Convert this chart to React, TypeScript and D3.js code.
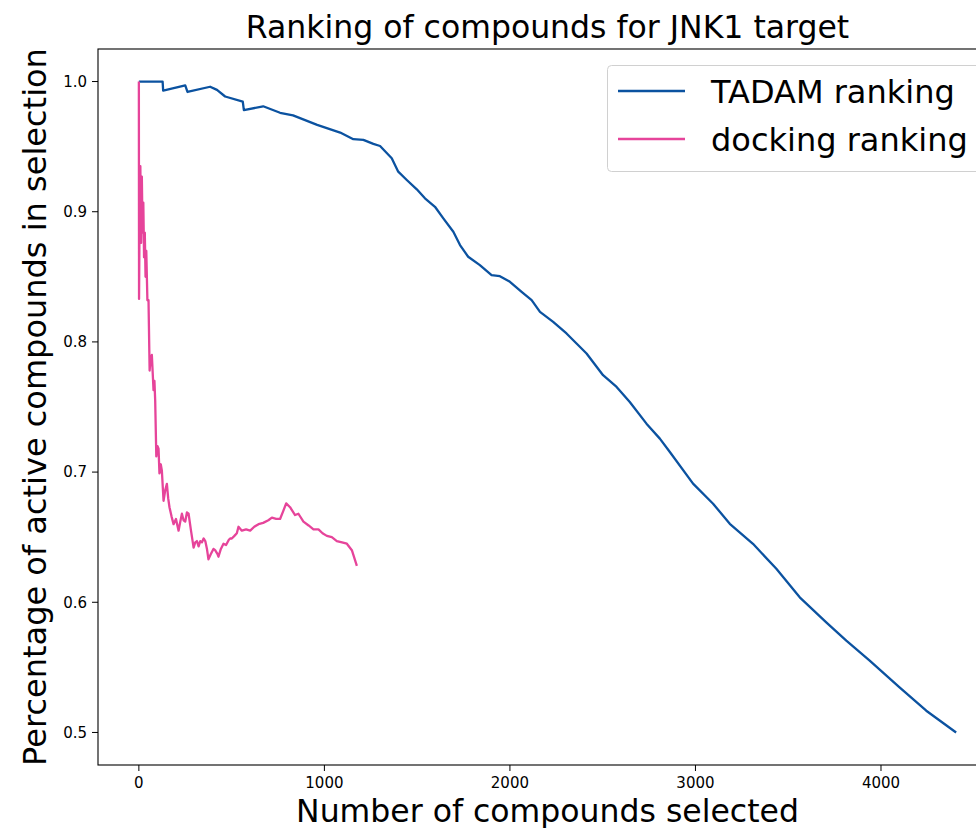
import React, { useEffect, useRef } from 'react';
import * as d3 from 'd3';

// TADAM ranking curve (compounds selected, fraction active)
const tadamX = [0, 128, 131, 250, 262, 384, 421, 465, 560, 566, 670, 761, 831, 961, 1085, 1156, 1210, 1264, 1300, 1363, 1398, 1444, 1498, 1542, 1596, 1641, 1695, 1731, 1775, 1838, 1901, 1946, 2000, 2063, 2117, 2162, 2233, 2305, 2413, 2502, 2575, 2646, 2736, 2808, 2862, 2987, 3095, 3185, 3310, 3436, 3562, 3705, 3813, 3939, 4100, 4244, 4405];
const tadamY = [1.0, 1.0, 0.993, 0.997, 0.992, 0.996, 0.9936, 0.9885, 0.9846, 0.978, 0.981, 0.976, 0.974, 0.9667, 0.9608, 0.9557, 0.9552, 0.9521, 0.9505, 0.9411, 0.9308, 0.9244, 0.9172, 0.9103, 0.9038, 0.8949, 0.8846, 0.8744, 0.8654, 0.859, 0.8513, 0.8505, 0.8462, 0.8385, 0.8321, 0.8231, 0.8154, 0.8065, 0.7911, 0.7744, 0.7654, 0.7538, 0.7372, 0.7257, 0.7154, 0.6911, 0.6757, 0.6603, 0.6449, 0.6257, 0.6038, 0.5846, 0.5705, 0.5552, 0.5346, 0.5167, 0.5];

// docking ranking curve
const dockX = [0, 1, 4, 8, 12, 16, 20, 24, 28, 32, 36, 40, 46, 52, 58, 64, 70, 75, 79, 84, 88, 94, 100, 106, 111, 118, 124, 133, 142, 151, 158, 165, 176, 187, 200, 214, 222, 232, 241, 250, 259, 268, 281, 295, 304, 313, 322, 331, 340, 349, 358, 367, 375, 388, 402, 411, 424, 429, 442, 456, 470, 485, 492, 501, 515, 528, 537, 555, 578, 600, 622, 645, 670, 698, 717, 740, 761, 778, 794, 815, 842, 860, 887, 915, 941, 968, 990, 1013, 1040, 1067, 1095, 1121, 1148, 1175];
const dockY = [1.0, 0.833, 0.9, 0.935, 0.876, 0.927, 0.884, 0.907, 0.865, 0.884, 0.85, 0.87, 0.832, 0.832, 0.778, 0.788, 0.79, 0.775, 0.763, 0.77, 0.755, 0.712, 0.72, 0.718, 0.699, 0.706, 0.701, 0.678, 0.686, 0.691, 0.68, 0.673, 0.666, 0.66, 0.664, 0.655, 0.661, 0.668, 0.663, 0.662, 0.669, 0.668, 0.655, 0.642, 0.646, 0.647, 0.643, 0.647, 0.646, 0.649, 0.647, 0.641, 0.633, 0.637, 0.641, 0.64, 0.637, 0.635, 0.641, 0.645, 0.644, 0.648, 0.649, 0.649, 0.651, 0.653, 0.658, 0.655, 0.656, 0.655, 0.658, 0.66, 0.661, 0.663, 0.665, 0.664, 0.664, 0.67, 0.676, 0.673, 0.667, 0.668, 0.662, 0.659, 0.656, 0.656, 0.653, 0.651, 0.65, 0.647, 0.646, 0.645, 0.64, 0.628];

const seriesNames = ['TADAM ranking', 'docking ranking'];
const seriesColors = ['#0b52a0', '#e6449a'];
const xTicks = [0, 1000, 2000, 3000, 4000];
const yTicks = [0.5, 0.6, 0.7, 0.8, 0.9, 1.0];

const App = () => {
  const svgRef = useRef(null);

  useEffect(() => {
    const width = 976;
    const height = 828;
    const left = 98, right = 997, top = 49, bottom = 765;
    const font = 'DejaVu Sans, sans-serif';

    const xMax = 4405;
    const x = d3.scaleLinear().domain([-0.05 * xMax, 1.05 * xMax]).range([left, right]);
    const y = d3.scaleLinear().domain([0.475, 1.025]).range([bottom, top]);

    const svg = d3.select(svgRef.current)
      .attr('width', width)
      .attr('height', height)
      .attr('viewBox', [0, 0, width, height]);
    svg.selectAll('*').remove();

    svg.append('rect').attr('width', width).attr('height', height).attr('fill', '#fff');

    const line = d3.line<[number, number]>()
      .x(d => x(d[0]))
      .y(d => y(d[1]));

    const series = [
      tadamX.map((v, i) => [v, tadamY[i]] as [number, number]),
      dockX.map((v, i) => [v, dockY[i]] as [number, number]),
    ];

    series.forEach((pts, i) => {
      svg.append('path')
        .attr('d', line(pts))
        .attr('fill', 'none')
        .attr('stroke', seriesColors[i])
        .attr('stroke-width', 2.3)
        .attr('stroke-linejoin', 'round');
    });

    // spines
    svg.append('rect')
      .attr('x', left).attr('y', top)
      .attr('width', right - left).attr('height', bottom - top)
      .attr('fill', 'none').attr('stroke', '#000').attr('stroke-width', 1.1);

    // x ticks
    const xg = svg.append('g');
    xTicks.forEach(t => {
      xg.append('line').attr('x1', x(t)).attr('x2', x(t)).attr('y1', bottom).attr('y2', bottom + 6)
        .attr('stroke', '#000').attr('stroke-width', 1);
      xg.append('text').attr('x', x(t)).attr('y', bottom + 23)
        .attr('text-anchor', 'middle').attr('font-family', font).attr('font-size', 15)
        .text(String(t));
    });

    // y ticks
    const yg = svg.append('g');
    yTicks.forEach(t => {
      yg.append('line').attr('x1', left - 6).attr('x2', left).attr('y1', y(t)).attr('y2', y(t))
        .attr('stroke', '#000').attr('stroke-width', 1);
      yg.append('text').attr('x', left - 11).attr('y', y(t)).attr('dy', '0.36em')
        .attr('text-anchor', 'end').attr('font-family', font).attr('font-size', 15)
        .text(d3.format('.1f')(t));
    });

    // title and axis labels
    svg.append('text').attr('x', (left + right) / 2).attr('y', 37.5)
      .attr('text-anchor', 'middle').attr('font-family', font).attr('font-size', 31.5)
      .text('Ranking of compounds for JNK1 target');
    svg.append('text').attr('x', (left + right) / 2).attr('y', 821.5)
      .attr('text-anchor', 'middle').attr('font-family', font).attr('font-size', 31.5)
      .text('Number of compounds selected');
    svg.append('text')
      .attr('transform', `translate(46, ${(top + bottom) / 2}) rotate(-90)`)
      .attr('text-anchor', 'middle').attr('font-family', font).attr('font-size', 32)
      .text('Percentage of active compounds in selection');

    // legend
    const lg = svg.append('g');
    lg.append('rect').attr('x', 607.5).attr('y', 65.5).attr('width', 400).attr('height', 106)
      .attr('rx', 4).attr('fill', '#fff').attr('fill-opacity', 0.8)
      .attr('stroke', '#d0d0d0').attr('stroke-width', 1);
    seriesNames.forEach((name, i) => {
      const ly = 91 + i * 48;
      lg.append('line').attr('x1', 618).attr('x2', 685).attr('y1', ly).attr('y2', ly)
        .attr('stroke', seriesColors[i]).attr('stroke-width', 2.3);
      lg.append('text').attr('x', 711).attr('y', ly).attr('dy', '0.36em')
        .attr('font-family', font).attr('font-size', 32)
        .text(name);
    });
  }, []);

  return <svg ref={svgRef} style={{ position: 'absolute', left: 0, top: 0 }}></svg>;
};

export default App;
